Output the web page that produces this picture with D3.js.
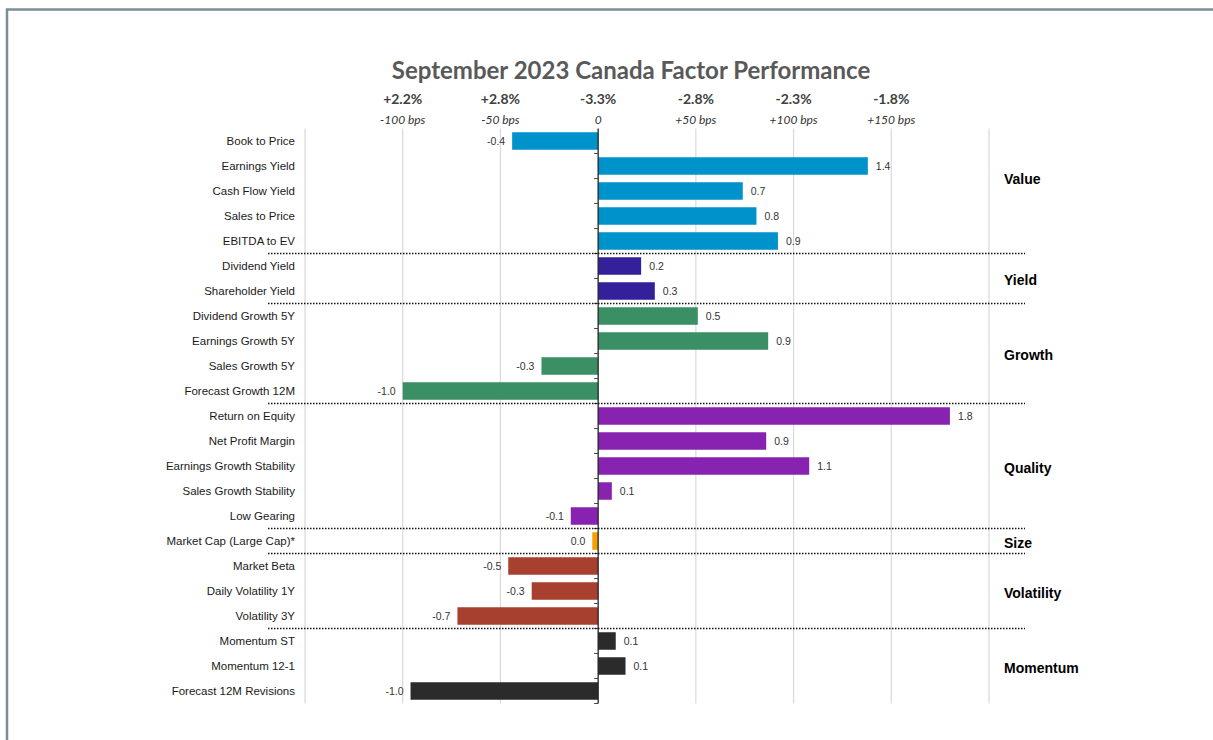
<!DOCTYPE html>
<html>
<head>
<meta charset="utf-8">
<script src="https://cdn.jsdelivr.net/npm/d3@7"></script>
<style>
  body { margin: 0; background: #fff; }
</style>
</head>
<body>
<div id="chart"></div>
<script>
// factor names and their readings (in %)
var factors = ["Book to Price", "Earnings Yield", "Cash Flow Yield", "Sales to Price", "EBITDA to EV",
  "Dividend Yield", "Shareholder Yield",
  "Dividend Growth 5Y", "Earnings Growth 5Y", "Sales Growth 5Y", "Forecast Growth 12M",
  "Return on Equity", "Net Profit Margin", "Earnings Growth Stability", "Sales Growth Stability", "Low Gearing",
  "Market Cap (Large Cap)*",
  "Market Beta", "Daily Volatility 1Y", "Volatility 3Y",
  "Momentum ST", "Momentum 12-1", "Forecast 12M Revisions"];
var values = [-0.44, 1.38, 0.74, 0.81, 0.92,
  0.22, 0.29,
  0.51, 0.87, -0.29, -1.0,
  1.8, 0.86, 1.08, 0.07, -0.14,
  -0.03,
  -0.46, -0.34, -0.72,
  0.09, 0.14, -0.96];

var groups = ["Value", "Yield", "Growth", "Quality", "Size", "Volatility", "Momentum"];
var groupSizes = [5, 2, 4, 5, 1, 3, 3];
var groupColors = ["#0093cb", "#35209b", "#3a8f65", "#8723b0", "#f5a000", "#a8402f", "#2b2b2b"];

// header labels over the grid
var headerTicks = [-1.0, -0.5, 0, 0.5, 1.0, 1.5];
var returnLabels = ["+2.2%", "+2.8%", "-3.3%", "-2.8%", "-2.3%", "-1.8%"];
var bpsLabels = ["-100 bps", "-50 bps", "0", "+50 bps", "+100 bps", "+150 bps"];

var width = 1213, height = 740;

var svg = d3.select("#chart").append("svg")
  .attr("width", width)
  .attr("height", height);

// frame
svg.append("path")
  .attr("d", "M7,740 L7,9.5 L1213,9.5")
  .attr("fill", "none")
  .attr("stroke", "#7c8d9a")
  .attr("stroke-width", 2.5);

var x = d3.scaleLinear().domain([-1.5, 2.0]).range([305, 989]);
var y = d3.scaleBand().domain(factors).range([128.5, 703.5])
  .paddingInner(0.3).paddingOuter(0.15);
var step = y.step();

// group index for each factor
var groupOf = [];
groupSizes.forEach(function(n, g){
  for (var k = 0; k < n; k++) groupOf.push(g);
});

// title
svg.append("text")
  .attr("x", 631)
  .attr("y", 79)
  .attr("text-anchor", "middle")
  .style("font-family", "Lato, 'Open Sans', sans-serif")
  .style("font-size", "24px")
  .style("font-weight", "bold")
  .attr("fill", "#595959")
  .text("September 2023 Canada Factor Performance");

// gridlines
svg.selectAll(".grid")
  .data(x.ticks(7).filter(function(d){ return d !== 0; }))
  .enter()
  .append("line")
  .attr("class", "grid")
  .attr("x1", function(d){ return x(d); })
  .attr("x2", function(d){ return x(d); })
  .attr("y1", 128.5)
  .attr("y2", 703.5)
  .attr("stroke", "#d9d9d9")
  .attr("stroke-width", 1.2);

// header labels
svg.selectAll(".ret")
  .data(headerTicks)
  .enter()
  .append("text")
  .attr("class", "ret")
  .attr("x", function(d){ return x(d); })
  .attr("y", 104)
  .attr("text-anchor", "middle")
  .style("font-family", "Lato, sans-serif")
  .style("font-size", "14px")
  .style("font-weight", "bold")
  .attr("fill", "#404040")
  .text(function(d, i){ return returnLabels[i]; });

svg.selectAll(".bps")
  .data(headerTicks)
  .enter()
  .append("text")
  .attr("class", "bps")
  .attr("x", function(d){ return x(d); })
  .attr("y", 124)
  .attr("text-anchor", "middle")
  .style("font-family", "Lato, sans-serif")
  .style("font-size", "12px")
  .style("font-style", "italic")
  .attr("fill", "#333")
  .text(function(d, i){ return bpsLabels[i]; });

// bars
svg.selectAll(".bar")
  .data(values)
  .enter()
  .append("rect")
  .attr("class", "bar")
  .attr("x", function(d){ return x(Math.min(0, d)); })
  .attr("y", function(d, i){ return y(factors[i]); })
  .attr("width", function(d){ return Math.abs(x(d) - x(0)); })
  .attr("height", y.bandwidth())
  .attr("fill", function(d, i){ return groupColors[groupOf[i]]; });

// zero axis with ticks between rows
svg.append("line")
  .attr("x1", x(0)).attr("x2", x(0))
  .attr("y1", 128.5).attr("y2", 703.5)
  .attr("stroke", "#222")
  .attr("stroke-width", 1.3);

svg.selectAll(".tick")
  .data(d3.range(1, factors.length + 1))
  .enter()
  .append("line")
  .attr("class", "tick")
  .attr("x1", x(0) - 4)
  .attr("x2", x(0))
  .attr("y1", function(d){ return 128.5 + d * step; })
  .attr("y2", function(d){ return 128.5 + d * step; })
  .attr("stroke", "#444")
  .attr("stroke-width", 1);

// category labels
svg.selectAll(".cat")
  .data(factors)
  .enter()
  .append("text")
  .attr("class", "cat")
  .attr("x", 295)
  .attr("y", function(d){ return y(d) + y.bandwidth() / 2; })
  .attr("dy", "0.35em")
  .attr("text-anchor", "end")
  .style("font-family", "'Liberation Sans', Arial, sans-serif")
  .style("font-size", "11.5px")
  .attr("fill", "#1a1a1a")
  .text(function(d){ return d; });

// value labels
function fmt(v){
  var s = Math.abs(v).toFixed(1);
  return (v < 0 && s !== "0.0" ? "-" : "") + s;
}

svg.selectAll(".val")
  .data(values)
  .enter()
  .append("text")
  .attr("class", "val")
  .attr("x", function(d){ return d >= 0 ? x(d) + 8 : x(d) - 7; })
  .attr("y", function(d, i){ return y(factors[i]) + y.bandwidth() / 2; })
  .attr("dy", "0.35em")
  .attr("text-anchor", function(d){ return d >= 0 ? "start" : "end"; })
  .style("font-family", "'Liberation Sans', Arial, sans-serif")
  .style("font-size", "10.5px")
  .attr("fill", "#333")
  .text(function(d){ return fmt(d); });

// group separators and names
var start = 0;
groupSizes.forEach(function(n, g){
  var top = 128.5 + start * step;
  var mid = top + n * step / 2;
  svg.append("text")
    .attr("x", 1004)
    .attr("y", mid + (g === 0 ? -12 : 2))
    .attr("dy", "0.35em")
    .style("font-family", "'Liberation Sans', Arial, sans-serif")
    .style("font-size", "14px")
    .style("font-weight", "bold")
    .attr("fill", "#000")
    .text(groups[g]);
  start += n;
  if (g < groupSizes.length - 1) {
    var yy = 128.5 + start * step;
    svg.append("line")
      .attr("x1", 268).attr("x2", 1025)
      .attr("y1", yy).attr("y2", yy)
      .attr("stroke", "#111")
      .attr("stroke-width", 1.6)
      .attr("stroke-dasharray", "1.5,1.5");
  }
});
</script>
</body>
</html>
